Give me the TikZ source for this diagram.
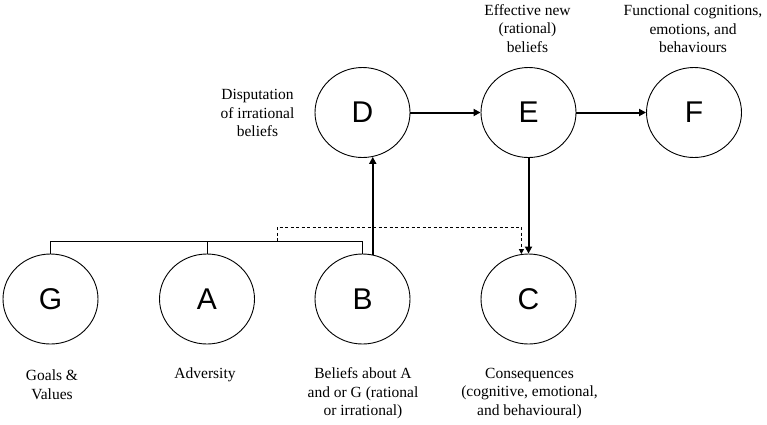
\documentclass[tikz,border=0pt]{standalone}
\usepackage{fontspec}
\setmainfont{Liberation Serif}
\newfontfamily\letterfont{Liberation Sans}
\usetikzlibrary{arrows.meta,calc,shapes.geometric}
\begin{document}
\begin{tikzpicture}[x=1pt,y=-1pt,
  stage/.style={draw, ellipse, minimum width=95pt, minimum height=90pt,
    inner sep=0pt, line width=0.9pt, font=\letterfont\fontsize{30}{30}\selectfont},
  caption/.style={font=\fontsize{15.5}{18.5}\selectfont, align=center, inner sep=0pt},
  flow/.style={line width=2pt, -{Triangle[length=7pt,width=7pt]}},
  link/.style={line width=0.9pt},
  hint/.style={line width=0.9pt, dash pattern=on 3pt off 2.5pt,
    -{Triangle[length=5pt,width=5pt]}}]
  \useasboundingbox (0,0) rectangle (767,424);

  % stages of the model
  \node[stage] (G) at (50.5,299) {G};
  \node[stage] (A) at (207,299) {A};
  \node[stage] (B) at (362.5,299) {B};
  \node[stage] (C) at (528.5,299) {C};
  \node[stage] (D) at (362.5,112.5) {D};
  \node[stage] (E) at (528.5,112.5) {E};
  \node[stage] (F) at (694,112.5) {F};

  % descriptions
  \node[caption] (tD) at (257.5,113) {Disputation\\of irrational\\beliefs};
  \node[caption] (tE) at (527.5,28.5) {Effective new\\(rational)\\beliefs};
  \node[caption] (tF) at (693,29) {Functional cognitions,\\emotions, and\\behaviours};
  \node[caption] (tG) at (52,384.5) {Goals \&\\Values};
  \node[caption] (tA) at (205,375) {Adversity};
  \node[caption] (tB) at (363,393.5) {Beliefs about A\\and or G (rational\\or irrational)};
  \node[caption] (tC) at (529.5,393.5) {Consequences\\(cognitive, emotional,\\and behavioural)};

  % bracket joining G, A and B
  \coordinate (bk) at (277,241);
  \coordinate (dk) at (277,227);
  \draw[link] (G.north) -- (G.north |- bk) -- (B.north |- bk) -- (B.north);
  \draw[link] (A.north) -- (A.north |- bk);

  % connectors
  \draw[flow] (B.77) -- (D.-77);
  \draw[flow] (D.east) -- (E.west);
  \draw[flow] (E.east) -- (F.west);
  \draw[flow] (E.south) -- (C.north);
  \draw[hint] (bk) -- (dk) -| (C.99);
\end{tikzpicture}
\end{document}
